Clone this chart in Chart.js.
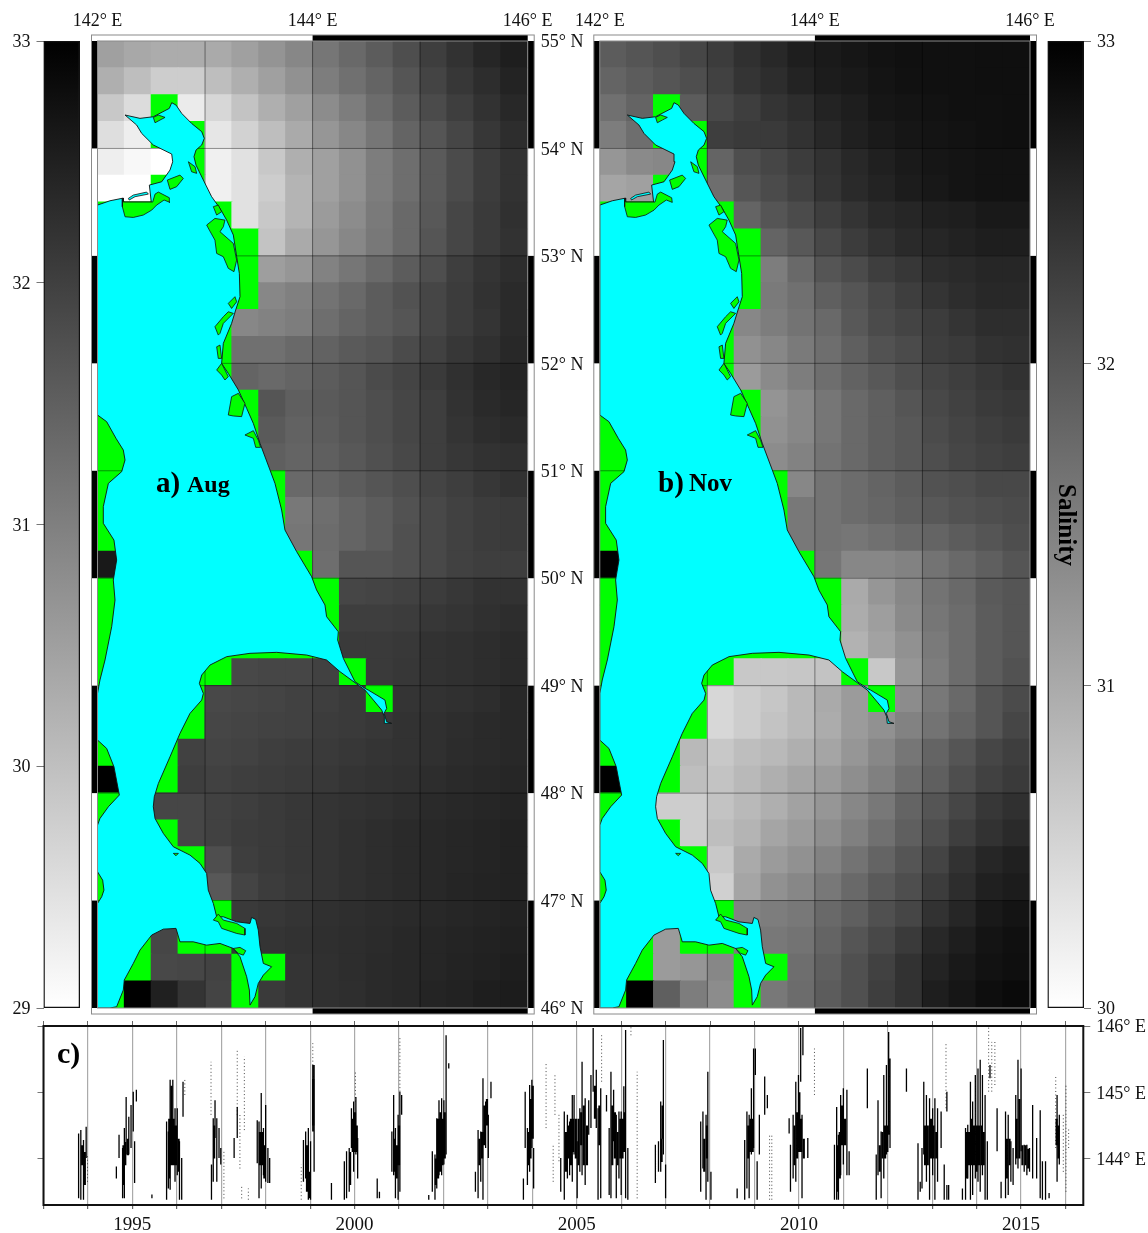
<!DOCTYPE html>
<html><head><meta charset="utf-8">
<script src="https://cdn.jsdelivr.net/npm/chart.js@4"></script>
<style>html,body{margin:0;padding:0;background:#fff}canvas{position:absolute;left:0;top:0}#w{position:relative;width:1148px;height:1233px;overflow:hidden}</style>
</head><body><div id="w"></div>
<script>
const _=null;
const lonTicks=[142,144,146];
const lonGrid=[143,144,145];
const latTicks=[46,47,48,49,50,51,52,53,54,55];
const augBarTicks=[29,30,31,32,33];
const novBarTicks=[30,31,32,33];
const yearTicks=[1993,1994,1995,1996,1997,1998,1999,2000,2001,2002,2003,2004,2005,2006,2007,2008,2009,2010,2011,2012,2013,2014,2015,2016];
const lonSeriesTicks=[144,145,146];

// salinity cells, row 0 = 54.75-55 N, column 0 = 142-142.25 E; null = land/no-data mask
const salinityAug=[
[30.49,30.36,30.30,30.30,30.33,30.49,30.68,30.88,31.15,31.35,31.56,31.78,32.03,32.22,32.40,32.53],
[30.25,30.02,29.78,29.78,30.02,30.25,30.49,30.73,31.04,31.24,31.43,31.67,31.93,32.14,32.29,32.45],
[29.86,29.55,_,29.31,29.63,29.94,30.25,30.49,30.80,31.04,31.31,31.56,31.82,32.03,32.22,32.37],
[29.52,29.27,_,_,29.39,29.71,30.02,30.33,30.65,30.88,31.15,31.43,31.67,31.90,32.14,32.29],
[29.27,29.11,29,_,29.24,29.47,29.86,30.25,30.49,30.73,31.04,31.27,31.59,31.82,32.06,32.22],
[29,29,_,_,29.24,29.47,29.78,30.18,30.49,30.73,31.04,31.27,31.59,31.82,32.06,32.22],
[_,_,_,_,_,29.47,29.86,30.18,30.57,30.80,31.09,31.35,31.62,31.90,32.09,32.25],
[_,_,_,_,_,_,29.94,30.33,30.65,30.88,31.12,31.35,31.67,31.90,32.09,32.22],
[_,_,_,_,_,_,30.52,30.65,30.96,31.15,31.35,31.56,31.78,32.03,32.18,32.29],
[_,_,_,_,_,_,30.88,30.99,31.20,31.35,31.56,31.71,31.90,32.06,32.22,32.34],
[_,_,_,_,_,30.88,30.96,31.04,31.27,31.43,31.56,31.67,31.90,32.06,32.18,32.34],
[_,_,_,_,_,31.24,31.24,31.35,31.46,31.59,31.67,31.82,31.98,32.14,32.25,32.37],
[_,_,_,_,_,31.43,31.35,31.43,31.56,31.67,31.82,31.93,32.09,32.25,32.37,32.44],
[_,_,_,_,_,_,31.67,31.51,31.59,31.67,31.78,31.90,32.03,32.22,32.34,32.40],
[_,_,_,_,_,_,31.59,31.46,31.56,31.67,31.78,31.90,32.03,32.18,32.29,32.34],
[_,_,_,_,_,_,31.51,31.43,31.51,31.62,31.75,31.87,32.03,32.14,32.22,32.25],
[_,_,_,_,_,_,_,31.35,31.43,31.56,31.67,31.78,31.93,32.03,32.14,32.22],
[_,_,_,_,_,_,_,31.12,31.27,31.43,31.56,31.71,31.87,31.98,32.06,32.09],
[_,_,_,_,_,_,_,31.15,31.31,31.43,31.56,31.75,31.87,31.98,32.06,32.09],
[32.61,_,_,_,_,_,_,_,31.27,31.67,31.67,31.75,31.87,31.98,32.03,32.03],
[_,_,_,_,_,_,_,_,_,31.90,31.93,31.98,32.06,32.14,32.22,32.22],
[_,_,_,_,_,_,_,_,_,32.03,32.03,32.06,32.14,32.18,32.25,32.29],
[_,_,_,_,_,_,_,_,_,32.09,32.09,32.12,32.22,32.25,32.29,32.34],
[_,_,_,_,_,31.87,31.90,31.90,31.98,_,32.09,32.14,32.22,32.25,32.29,32.34],
[_,_,_,_,31.87,31.90,31.93,31.98,32.03,32.09,_,32.18,32.22,32.25,32.29,32.37],
[_,_,_,_,31.90,31.93,31.96,31.98,32.06,32.09,32.14,32.22,32.25,32.29,32.34,32.37],
[_,_,_,31.98,31.93,31.96,32.03,32.06,32.09,32.14,32.18,32.22,32.25,32.31,32.34,32.37],
[33,_,_,32.03,31.98,32.03,32.06,32.09,32.12,32.18,32.22,32.25,32.29,32.34,32.37,32.40],
[_,_,31.90,31.90,31.98,32.03,32.09,32.14,32.18,32.22,32.25,32.29,32.34,32.37,32.40,32.44],
[_,_,_,31.90,31.98,32.06,32.09,32.14,32.18,32.25,32.29,32.34,32.37,32.40,32.44,32.47],
[_,_,_,_,31.78,32.03,32.09,32.14,32.18,32.25,32.29,32.34,32.37,32.40,32.44,32.47],
[_,_,_,_,31.62,31.93,32.06,32.12,32.18,32.25,32.29,32.34,32.37,32.42,32.45,32.47],
[_,_,_,_,_,32.09,32.14,32.18,32.25,32.28,32.31,32.34,32.37,32.40,32.44,32.47],
[_,_,31.90,_,_,32.14,32.18,32.22,32.26,32.29,32.33,32.37,32.40,32.44,32.47,32.50],
[_,_,31.87,31.90,31.96,_,_,32.18,32.25,32.29,32.34,32.37,32.40,32.45,32.48,32.53],
[_,33,32.50,32.18,31.93,_,32.09,32.18,32.25,32.28,32.34,32.37,32.44,32.47,32.53,32.56]
];
const salinityNov=[
[31.92,32.00,32.08,32.18,32.29,32.44,32.53,32.65,32.69,32.74,32.79,32.81,32.81,32.81,32.82,32.82],
[31.82,31.92,32.00,32.08,32.24,32.39,32.47,32.59,32.67,32.71,32.76,32.80,32.81,32.81,32.82,32.82],
[31.68,31.82,_,31.92,32.15,32.27,32.39,32.47,32.59,32.65,32.74,32.76,32.79,32.81,32.81,32.82],
[31.53,31.71,_,_,32.27,32.32,32.32,32.41,32.53,32.62,32.69,32.74,32.76,32.79,32.81,32.82],
[31.24,31.38,31.41,_,31.82,32.08,32.18,32.29,32.41,32.53,32.62,32.69,32.74,32.76,32.79,32.79],
[31.06,31.12,_,_,31.71,32.00,32.12,32.24,32.39,32.51,32.59,32.67,32.72,32.76,32.79,32.79],
[_,_,_,_,_,31.82,32.00,32.12,32.27,32.39,32.51,32.55,32.62,32.65,32.71,32.71],
[_,_,_,_,_,_,31.82,31.96,32.15,32.29,32.41,32.51,32.55,32.60,32.65,32.65],
[_,_,_,_,_,_,31.53,31.76,32.00,32.12,32.27,32.35,32.47,32.51,32.55,32.55],
[_,_,_,_,_,_,31.56,31.68,31.88,32.00,32.15,32.27,32.39,32.47,32.53,32.53],
[_,_,_,_,_,31.41,31.53,31.65,31.76,31.96,32.12,32.20,32.29,32.39,32.47,32.47],
[_,_,_,_,_,31.29,31.41,31.56,31.71,31.88,32.04,32.12,32.27,32.32,32.41,32.44],
[_,_,_,_,_,31.18,31.38,31.53,31.71,31.85,31.96,32.08,32.20,32.27,32.35,32.41],
[_,_,_,_,_,_,31.26,31.41,31.61,31.76,31.88,32.00,32.15,32.24,32.32,32.35],
[_,_,_,_,_,_,31.29,31.41,31.61,31.76,31.88,31.96,32.12,32.20,32.27,32.32],
[_,_,_,_,_,_,31.35,31.47,31.65,31.76,31.88,31.96,32.08,32.18,32.24,32.27],
[_,_,_,_,_,_,_,31.41,31.65,31.73,31.82,31.92,32.04,32.08,32.15,32.15],
[_,_,_,_,_,_,_,31.59,31.65,31.73,31.80,31.88,31.96,32.04,32.08,32.12],
[_,_,_,_,_,_,_,31.59,31.65,31.61,31.68,31.76,31.82,31.92,32.00,32.08],
[33,_,_,_,_,_,_,_,31.61,31.41,31.41,31.47,31.65,31.76,31.88,32.00],
[_,_,_,_,_,_,_,_,_,31.00,31.24,31.41,31.65,31.76,31.94,32.00],
[_,_,_,_,_,_,_,_,_,30.98,31.14,31.38,31.61,31.73,31.92,32.00],
[_,_,_,_,_,_,_,_,_,30.91,31.09,31.29,31.56,31.73,31.92,32.00],
[_,_,_,_,_,30.65,30.65,30.67,30.71,_,30.65,31.24,31.53,31.73,31.92,32.04],
[_,_,_,_,30.47,30.59,30.67,30.82,31.00,31.18,_,31.35,31.59,31.76,32.00,32.12],
[_,_,_,_,30.47,30.59,30.71,30.82,30.98,31.18,31.29,31.47,31.65,31.82,32.00,32.18],
[_,_,_,30.82,30.65,30.76,30.82,30.94,31.06,31.24,31.41,31.61,31.82,32.00,32.18,32.27],
[33,_,_,30.76,30.71,30.82,30.94,31.06,31.18,31.33,31.49,31.71,31.88,32.08,32.24,32.32],
[_,_,30.59,30.59,30.71,30.82,30.94,31.09,31.24,31.41,31.59,31.82,32.00,32.18,32.35,32.44],
[_,_,_,30.59,30.76,30.88,31.06,31.18,31.33,31.49,31.68,31.88,32.08,32.27,32.41,32.51],
[_,_,_,_,30.65,31.00,31.18,31.29,31.47,31.65,31.82,32.00,32.20,32.41,32.55,32.62],
[_,_,_,_,30.55,31.06,31.29,31.41,31.59,31.76,31.94,32.08,32.29,32.47,32.62,32.67],
[_,_,_,_,_,31.47,31.53,31.59,31.76,31.88,32.06,32.18,32.41,32.55,32.71,32.76],
[_,_,31.18,_,_,31.53,31.59,31.65,31.82,32.00,32.15,32.32,32.53,32.65,32.76,32.81],
[_,_,31.18,31.24,31.41,_,_,31.71,31.88,32.06,32.24,32.41,32.59,32.71,32.79,32.82],
[_,33,31.88,31.53,31.35,_,31.59,31.73,31.92,32.06,32.27,32.41,32.65,32.74,32.84,32.88]
];

// Sakhalin outline, [lon, lat]
const sakhalin=[[142,53.473],[142.116,53.513],[142.240,53.538],[142.240,53.501],[142.500,53.501],[142.482,53.659],[142.597,53.690],[142.674,53.799],[142.699,53.876],[142.690,53.948],[142.519,54.032],[142.411,54.140],[142.364,54.218],[142.256,54.311],[142.395,54.280],[142.519,54.295],[142.668,54.373],[142.690,54.426],[142.730,54.404],[142.783,54.326],[142.875,54.233],[142.969,54.156],[142.993,54.094],[142.969,54.032],[142.916,53.985],[142.897,53.923],[142.916,53.845],[142.984,53.706],[143.061,53.551],[143.139,53.442],[143.201,53.333],[143.263,53.194],[143.294,52.992],[143.319,52.837],[143.325,52.620],[143.285,52.496],[143.247,52.372],[143.170,52.186],[143.154,51.999],[143.216,51.907],[143.310,51.752],[143.387,51.581],[143.449,51.441],[143.511,51.255],[143.604,51.007],[143.650,50.883],[143.712,50.635],[143.743,50.449],[143.852,50.247],[143.991,50.014],[144.037,49.890],[144.115,49.751],[144.130,49.642],[144.239,49.502],[144.233,49.425],[144.286,49.254],[144.394,49.037],[144.487,48.975],[144.518,48.959],[144.673,48.866],[144.689,48.788],[144.664,48.742],[144.689,48.664],[144.735,48.649],[144.673,48.649],[144.667,48.711],[144.642,48.773],[144.565,48.866],[144.487,48.959],[144.394,49.028],[144.255,49.130],[144.130,49.239],[143.945,49.285],[143.666,49.310],[143.418,49.301],[143.201,49.270],[143.046,49.192],[142.969,49.099],[142.947,49.021],[142.984,48.928],[142.969,48.866],[142.860,48.742],[142.767,48.556],[142.674,48.338],[142.566,48.090],[142.528,47.966],[142.519,47.873],[142.535,47.764],[142.612,47.625],[142.705,47.501],[142.860,47.423],[142.953,47.346],[143.015,47.252],[143.030,47.097],[143.077,46.973],[143.108,46.849],[143.170,46.849],[143.294,46.802],[143.418,46.787],[143.433,46.843],[143.471,46.824],[143.495,46.725],[143.511,46.570],[143.542,46.415],[143.619,46.384],[143.542,46.306],[143.495,46.229],[143.464,46.105],[143.418,46.027],[143.412,46.167],[143.387,46.291],[143.325,46.477],[143.263,46.554],[143.139,46.601],[143.015,46.585],[142.891,46.616],[142.767,46.616],[142.730,46.741],[142.612,46.734],[142.504,46.679],[142.395,46.539],[142.333,46.415],[142.249,46.260],[142.240,46.167],[142.178,46.012],[142.116,46],[142,46],[142,46.973],[142.039,47.035],[142.060,47.097],[142.048,47.190],[142,47.268],[142,47.702],[142.023,47.764],[142.101,47.873],[142.203,47.982],[142.153,48.245],[142.085,48.416],[142,48.494],[142,48.928],[142.023,49.053],[142.070,49.239],[142.132,49.549],[142.163,49.797],[142.147,49.983],[142.178,50.169],[142.153,50.355],[142.054,50.511],[142.054,50.666],[142.101,50.883],[142.225,50.992],[142.256,51.100],[142.240,51.193],[142.172,51.302],[142.085,51.457],[142,51.519],[142,53.473]];
const sliver=[[142.287,53.535],[142.333,53.566],[142.457,53.594],[142.473,53.575],[142.349,53.551],[142.295,53.520],[142.287,53.535]];
const lagoons=[
[[142.519,54.289],[142.566,54.311],[142.628,54.289],[142.581,54.264],[142.535,54.239],[142.519,54.289]],
[[142.649,53.706],[142.767,53.752],[142.798,53.721],[142.736,53.644],[142.674,53.619],[142.649,53.706]],
[[142.231,53.535],[142.231,53.458],[142.256,53.364],[142.333,53.358],[142.426,53.380],[142.504,53.426],[142.550,53.473],[142.619,53.520],[142.674,53.498],[142.668,53.541],[142.566,53.594],[142.535,53.575],[142.513,53.501],[142.240,53.501],[142.231,53.535]],
[[143.015,53.287],[143.092,53.349],[143.185,53.333],[143.170,53.271],[143.139,53.225],[143.263,53.116],[143.294,52.961],[143.269,52.853],[143.216,52.884],[143.170,52.992],[143.108,53.023],[143.092,53.147],[143.040,53.240],[143.015,53.287]],
[[143.077,53.458],[143.123,53.473],[143.154,53.411],[143.108,53.380],[143.077,53.458]],
[[143.092,52.341],[143.170,52.434],[143.216,52.480],[143.263,52.465],[143.170,52.372],[143.139,52.279],[143.123,52.263],[143.092,52.341]],
[[143.216,52.558],[143.278,52.620],[143.294,52.573],[143.247,52.511],[143.216,52.558]],
[[143.108,52.154],[143.139,52.170],[143.154,52.046],[143.123,52.046],[143.108,52.154]],
[[143.108,51.938],[143.154,52.000],[143.216,51.876],[143.185,51.845],[143.154,51.891],[143.108,51.938]],
[[143.216,51.519],[143.247,51.690],[143.310,51.721],[143.371,51.628],[143.340,51.504],[143.263,51.510],[143.216,51.519]],
[[143.371,51.333],[143.449,51.373],[143.495,51.286],[143.517,51.218],[143.471,51.218],[143.449,51.302],[143.371,51.333]],
[[142.845,53.876],[142.907,53.830],[142.922,53.768],[142.875,53.783],[142.845,53.876]],
[[143.077,46.818],[143.123,46.874],[143.170,46.818],[143.294,46.787],[143.371,46.741],[143.371,46.679],[143.294,46.694],[143.154,46.741],[143.123,46.803],[143.077,46.818]],
[[143.263,46.554],[143.325,46.564],[143.378,46.533],[143.356,46.492],[143.310,46.508],[143.263,46.554]],
[[142.705,47.439],[142.752,47.439],[142.730,47.417],[142.705,47.439]]
];

// panel c: [decimal year, low longitude, high longitude]
const denseTracks=[[1993.79,143.40,144.38],[1993.84,143.38,144.43],[1993.90,143.38,144.28],[1993.96,144.01,144.48],[1994.64,143.70,143.88],[1994.70,144.01,144.36],[1994.78,143.40,144.16],[1994.82,143.40,144.46],[1994.86,144.06,144.93],[1994.92,144.06,144.63],[1994.97,144.16,144.81],[1995.02,144.41,145.01],[1995.05,143.63,144.26],[1995.09,144.86,145.04],[1995.44,143.40,143.46],[1995.77,143.38,144.56],[1995.81,143.55,144.41],[1995.85,143.53,145.19],[1995.91,144.16,145.19],[1995.96,143.65,144.76],[1996.01,143.75,144.76],[1996.06,143.38,144.26],[1996.11,143.38,144.01],[1996.14,144.63,145.16],[1996.78,143.38,143.91],[1996.82,143.65,144.61],[1996.86,144.31,144.88],[1996.90,143.65,144.61],[1996.95,144.01,144.46],[1996.99,143.91,144.16],[1997.29,144.01,144.31],[1997.36,144.31,144.78],[1997.81,143.93,144.58],[1997.85,143.40,144.56],[1997.90,143.55,144.99],[1997.95,143.75,144.46],[1998.00,143.65,144.81],[1998.05,143.63,144.16],[1998.09,143.63,144.01],[1998.85,143.65,144.28],[1998.90,143.70,144.41],[1998.96,143.38,144.46],[1999.01,143.38,144.26],[1999.06,144.41,145.41],[1999.09,143.80,145.41],[1999.48,143.38,143.63],[1999.77,143.38,143.96],[1999.82,143.40,144.11],[1999.88,143.50,144.16],[1999.93,144.16,144.76],[1999.98,143.80,144.86],[2000.03,144.06,144.93],[2000.07,143.70,144.31],[2000.51,143.40,143.70],[2000.56,143.40,143.50],[2000.84,143.80,144.41],[2000.88,143.75,144.96],[2000.92,143.40,144.46],[2000.98,143.38,144.66],[2001.02,143.50,145.01],[2001.06,144.66,144.96],[2001.67,143.38,143.45],[2001.75,143.50,144.11],[2001.81,143.38,144.06],[2001.85,143.55,144.61],[2001.90,143.75,144.88],[2001.96,143.75,144.91],[2002.01,143.91,144.88],[2002.06,144.06,145.86],[2002.12,145.36,145.44],[2002.72,143.50,143.80],[2002.78,143.40,144.43],[2002.84,143.65,144.41],[2002.89,143.38,145.21],[2002.95,144.16,144.86],[2003.01,144.01,144.66],[2003.07,144.91,145.16],[2003.80,143.38,143.70],[2003.84,144.16,145.01],[2003.89,143.60,144.46],[2003.94,143.80,145.11],[2003.99,144.16,145.19],[2004.03,143.55,144.16],[2004.64,143.50,144.01],[2004.72,143.38,144.71],[2004.79,143.70,144.66],[2004.84,143.75,144.56],[2004.90,143.65,144.96],[2004.94,144.06,144.96],[2005.01,143.40,144.26],[2005.07,143.80,144.76],[2005.12,143.75,145.46],[2005.19,143.60,144.91],[2005.27,144.36,144.88],[2005.32,144.46,145.26],[2005.37,145.01,145.97],[2005.44,144.46,145.34],[2005.48,143.38,144.76],[2005.54,143.40,145.06],[2005.67,144.71,144.96],[2005.73,143.45,144.46],[2005.77,143.40,145.31],[2005.83,144.26,145.04],[2005.89,143.40,144.66],[2005.95,143.70,144.71],[2006.00,143.45,144.71],[2006.06,144.16,145.09],[2006.10,143.40,145.94],[2006.15,143.38,144.16],[2006.77,143.63,144.21],[2006.84,143.80,144.26],[2006.89,143.80,144.86],[2006.95,144.06,145.79],[2007.00,143.40,143.91],[2007.79,143.50,144.56],[2007.84,143.85,144.71],[2007.91,143.38,144.66],[2007.95,143.65,145.31],[2008.02,143.38,143.80],[2008.61,143.40,143.55],[2008.78,143.38,144.28],[2008.83,143.55,144.71],[2008.88,143.40,144.66],[2008.93,144.06,145.06],[2008.98,144.16,145.66],[2009.02,145.26,145.66],[2009.06,143.38,143.96],[2009.11,144.06,144.66],[2009.23,144.66,145.24],[2009.29,144.76,144.96],[2009.78,144.38,144.61],[2009.81,143.50,144.21],[2009.87,143.70,144.66],[2009.93,143.65,145.16],[2009.99,144.16,145.26],[2010.04,145.16,145.97],[2010.09,145.56,145.99],[2010.07,143.40,144.66],[2010.20,144.01,144.31],[2010.80,143.38,144.21],[2010.85,143.38,144.78],[2010.89,143.38,144.36],[2010.94,143.75,144.96],[2011.00,143.91,145.06],[2011.08,143.75,145.04],[2011.13,143.75,144.11],[2011.54,144.76,145.36],[2011.74,143.38,144.06],[2011.78,143.75,144.88],[2011.85,143.40,144.41],[2011.91,143.70,145.26],[2011.97,144.06,145.41],[2012.02,144.36,145.91],[2012.05,144.16,145.51],[2012.42,145.01,145.36],[2012.68,143.38,144.23],[2012.73,143.50,143.65],[2012.77,143.55,144.16],[2012.81,144.06,145.16],[2012.87,143.65,144.96],[2012.94,143.38,144.91],[2013.01,143.75,144.76],[2013.06,143.38,144.91],[2013.12,143.65,144.76],[2013.20,144.16,144.71],[2013.27,143.38,143.91],[2013.33,143.38,143.60],[2013.37,143.38,143.60],[2013.33,144.71,145.01],[2013.68,143.38,143.55],[2013.75,143.38,144.46],[2013.80,143.70,144.51],[2013.86,143.38,145.16],[2013.91,143.45,144.86],[2013.97,143.70,145.26],[2014.03,143.65,145.36],[2014.08,143.50,145.49],[2014.13,143.75,145.26],[2014.19,143.38,144.96],[2014.24,143.38,144.26],[2014.30,145.21,145.41],[2014.46,144.11,144.76],[2014.55,143.40,143.65],[2014.65,143.40,144.71],[2014.71,143.45,144.66],[2014.77,143.65,144.26],[2014.82,143.60,144.16],[2014.88,143.91,144.96],[2014.93,143.85,145.49],[2015.00,144.11,145.36],[2015.07,143.80,144.21],[2015.13,143.75,144.21],[2015.19,143.80,144.16],[2015.26,143.70,144.81],[2015.35,143.70,144.31],[2015.43,143.40,144.73],[2015.48,143.38,143.96],[2015.55,143.38,143.96],[2015.63,143.40,143.48],[2015.81,143.65,144.96],[2015.86,143.91,144.66]];
const coreTracks=[[1993.87,143.9,144.2],[1993.93,143.6,144.1],[1994.80,143.6,144.2],[1994.84,143.9,144.25],[1994.90,144.05,144.3],[1995.83,143.7,144.6],[1995.88,143.9,145.1],[1995.93,143.9,144.6],[1995.98,143.9,144.5],[1996.04,143.8,144.3],[1996.84,144.0,144.5],[1997.87,143.9,144.4],[1997.92,143.9,144.4],[1997.97,143.7,144.2],[1998.93,143.5,144.2],[1998.99,143.4,143.8],[1999.07,144.5,145.2],[1999.90,143.6,144.1],[1999.96,144.1,144.6],[2000.01,144.1,144.7],[2000.05,144.1,144.5],[2000.90,143.8,144.3],[2000.95,143.7,144.2],[2001.00,143.9,144.5],[2001.83,143.6,144.0],[2001.88,143.7,144.6],[2001.93,143.8,144.7],[2001.98,143.9,144.6],[2002.03,144.0,144.7],[2002.81,143.9,144.3],[2002.87,144.0,144.4],[2002.92,144.2,144.8],[2002.98,144.5,144.9],[2003.91,143.9,144.4],[2003.96,144.0,144.9],[2004.01,144.3,145.1],[2004.76,143.8,144.4],[2004.81,144.0,144.5],[2004.87,143.9,144.6],[2004.92,144.1,144.6],[2004.98,144.0,144.6],[2005.04,143.9,144.6],[2005.10,144.2,144.7],[2005.16,143.9,144.8],[2005.23,143.9,144.5],[2005.41,144.6,145.1],[2005.51,144.2,144.8],[2005.80,143.9,144.8],[2005.86,144.0,144.7],[2005.92,143.9,144.4],[2005.98,144.0,144.6],[2006.03,144.0,144.6],[2006.08,144.1,144.7],[2006.91,143.95,144.3],[2006.93,144.3,144.8],[2007.87,143.8,144.3],[2007.93,144.0,144.5],[2008.86,144.0,144.5],[2008.91,144.1,144.6],[2008.96,144.1,144.6],[2009.90,143.9,144.5],[2009.96,144.0,144.7],[2010.01,144.1,145.0],[2010.05,144.1,144.6],[2010.11,144.0,144.3],[2010.87,143.5,144.2],[2010.92,143.7,144.4],[2010.97,144.2,144.8],[2011.04,144.2,144.6],[2011.82,143.8,144.2],[2011.88,144.0,144.4],[2011.94,144.0,144.5],[2011.99,144.1,144.5],[2012.84,143.9,144.5],[2012.90,143.9,144.5],[2012.97,144.0,144.6],[2013.03,144.0,144.5],[2013.09,144.0,144.4],[2013.78,143.7,144.4],[2013.83,143.9,144.4],[2013.89,143.9,144.6],[2013.94,143.9,144.5],[2014.00,143.8,144.5],[2014.05,143.9,144.5],[2014.11,143.9,144.5],[2014.16,143.9,144.4],[2014.68,143.7,144.3],[2014.74,143.9,144.3],[2014.90,144.0,144.6],[2014.96,144.0,144.9],[2015.03,143.9,144.2],[2015.10,143.9,144.2],[2015.16,143.85,144.15],[2015.80,144.2,144.6],[2015.84,144.0,144.5]];
const sparseTracks=[[1993.99,143.65,144.06],[1996.18,144.96,145.19],[1996.77,144.66,145.46],[1997.06,143.40,144.11],[1997.36,144.66,145.64],[1997.52,144.43,145.54],[1997.42,143.85,144.66],[1997.46,143.40,143.58],[1997.61,143.38,143.55],[1998.80,143.38,143.91],[1999.06,145.41,145.74],[2000.02,144.86,145.31],[2001.02,145.01,145.84],[2004.31,144.46,145.46],[2004.51,144.66,145.26],[2004.60,143.96,144.66],[2004.47,143.65,144.21],[2005.56,145.16,145.86],[2006.22,145.86,145.99],[2006.36,143.40,145.31],[2009.34,143.38,144.36],[2009.39,143.38,144.36],[2010.35,144.96,145.66],[2013.31,144.76,145.76],[2014.27,145.01,145.99],[2014.34,145.01,145.76],[2014.41,145.11,145.76],[2015.95,143.80,144.66],[2016.01,143.50,145.11],[2016.07,144.16,144.46],[2015.78,144.16,145.26]];

const W=1148,H=1233,SERIF="'Liberation Serif','Times New Roman',serif";
Chart.defaults.font.family=SERIF;Chart.defaults.font.size=18;Chart.defaults.color='#111';
Chart.defaults.animation=false;Chart.defaults.responsive=false;
Chart.defaults.plugins.legend.display=false;Chart.defaults.plugins.tooltip.enabled=false;

function canvas(){const c=document.createElement('canvas');c.width=W;c.height=H;c.style.width=W+'px';c.style.height=H+'px';document.getElementById('w').appendChild(c);return c.getContext('2d');}
const fixH=h=>s=>{s.height=h},fixW=w=>s=>{s.width=w};
const setTicks=a=>s=>{s.ticks=a.map(v=>({value:v}))};
const xy=a=>a.map(p=>({x:p[0],y:p[1]}));

function mapFrame(){return{id:'mapFrame',afterDraw(ch){
  const c=ch.ctx,a=ch.chartArea,x=ch.scales.x,y=ch.scales.y,t=6;
  c.save();c.fillStyle='#000';
  for(let i=0;i<latTicks.length-1;i+=2){
    const top=y.getPixelForValue(latTicks[latTicks.length-1-i]),bot=y.getPixelForValue(latTicks[latTicks.length-2-i]);
    c.fillRect(a.left-t,top,t,bot-top);c.fillRect(a.right,top,t+.5,bot-top);
  }
  const mid=x.getPixelForValue(144);
  c.fillRect(mid,a.top-t,a.right-mid,t);c.fillRect(mid,a.bottom,a.right-mid,t);
  c.strokeStyle='#8a8a8a';c.lineWidth=1;
  c.strokeRect(a.left-t,a.top-t,a.width+2*t+.5,a.height+2*t);
  c.strokeRect(a.left,a.top,a.width,a.height);
  c.restore();
}};}
function labelPlugin(items){return{id:'labels',afterDraw(ch){const c=ch.ctx;c.save();c.fillStyle='#000';c.textBaseline='alphabetic';
  items.forEach(i=>{c.save();c.font=i.font;c.translate(i.x,i.y);if(i.rot)c.rotate(i.rot);if(i.center)c.textAlign='center';c.fillText(i.text,0,0);c.restore();});c.restore();}};}

function mapChart(grid,lo,area,showLat,items){
  const cells=[];
  grid.forEach((row,r)=>row.forEach((v,k)=>cells.push({x:142.125+k*.25,y:54.875-r*.25,v})));
  const shade=v=>{if(v===null)return '#00ff00';const g=Math.round((33-v)/(33-lo)*255);return `rgb(${g},${g},${g})`;};
  const lines=[];
  lonGrid.forEach(l=>{lines.push({x:l,y:46},{x:l,y:55},{x:l,y:null});});
  latTicks.slice(1,-1).forEach(l=>{lines.push({x:142,y:l},{x:146,y:l},{x:146,y:null});});
  const rad=c=>(c.chart.scales.x.width/32+.55)/Math.SQRT1_2;
  const ds=[{label:'Salinity',data:cells,order:9,showLine:false,
    pointStyle:'rect',pointRadius:rad,pointHoverRadius:rad,
    pointBackgroundColor:c=>shade(c.raw.v),pointBorderWidth:0},
   {label:'Graticule',data:lines,order:8,showLine:true,pointRadius:0,borderColor:'rgba(0,0,0,.42)',borderWidth:1},
   {label:'Sakhalin',data:xy(sakhalin),order:7,showLine:true,pointRadius:0,fill:'shape',backgroundColor:'#00ffff',borderColor:'#111',borderWidth:.9,tension:0},
   {label:'Inlet',data:xy(sliver),order:6,showLine:true,pointRadius:0,fill:'shape',backgroundColor:'#00ffff',borderColor:'#111',borderWidth:.8}];
  lagoons.forEach((p,i)=>ds.push({label:'Lagoon '+i,data:xy(p),order:5,showLine:true,pointRadius:0,fill:'shape',backgroundColor:'#00ff00',borderColor:'#111',borderWidth:.8}));
  const latBox=64;
  new Chart(canvas(),{type:'scatter',data:{datasets:ds},plugins:[mapFrame(),labelPlugin(items)],options:{
    layout:{padding:{left:area[0],top:0,right:W-area[1]-latBox,bottom:H-1008}},
    scales:{
     x:{type:'linear',position:'top',min:142,max:146,afterBuildTicks:setTicks(lonTicks),afterFit:fixH(41),grid:{display:false,drawTicks:false},border:{display:false},
        ticks:{autoSkip:false,maxRotation:0,padding:9,color:'#111',font:{size:18},callback:v=>v+'° E'}},
     y:{type:'linear',position:'right',min:46,max:55,afterBuildTicks:setTicks(latTicks),afterFit:fixW(latBox),grid:{display:false,drawTicks:false},border:{display:false},
        ticks:{display:showLat,autoSkip:false,padding:13,labelOffset:1.5,color:'#111',font:{size:18},callback:v=>v+'° N'}}
    }}});
}

function barChart(lo,ticks,left,right,side,items){
  const box=side==='left'?left:W-right;
  new Chart(canvas(),{type:'bar',data:{labels:['Salinity'],datasets:[{label:'Salinity scale',data:[[lo,33]],barPercentage:1,categoryPercentage:1,borderColor:'#111',borderWidth:1.6,borderSkipped:false,
    backgroundColor:c=>{const a=c.chart.chartArea;if(!a)return '#888';const g=c.chart.ctx.createLinearGradient(0,a.top,0,a.bottom);g.addColorStop(0,'#000');g.addColorStop(1,'#fff');return g;}}]},
    plugins:[labelPlugin(items)],
    options:{layout:{padding:{left:side==='left'?0:left,right:side==='left'?W-right:0,top:41,bottom:H-1008}},scales:{
      x:{display:false},
      y:{position:side,min:lo,max:33,afterBuildTicks:setTicks(ticks),afterFit:fixW(box),border:{display:false},
         grid:{drawOnChartArea:false,drawTicks:true,tickLength:7,color:'#777'},
         ticks:{autoSkip:false,padding:6,labelOffset:1.5,color:'#111',font:{size:18},callback:v=>String(v)}}
    }}});
}

barChart(29,augBarTicks,43.5,80,'left',[]);
barChart(30,novBarTicks,1047.5,1084,'right',[{text:'Salinity',font:'bold 25px '+SERIF,x:1059,y:525,rot:Math.PI/2,center:true}]);
mapChart(salinityAug,29,[97.5,527.7],true,[{text:'a)',font:'bold 29px '+SERIF,x:156,y:492},{text:'Aug',font:'bold 24px '+SERIF,x:187,y:492}]);
mapChart(salinityNov,30,[599.8,1030],false,[{text:'b)',font:'bold 29px '+SERIF,x:658,y:492},{text:'Nov',font:'bold 25px '+SERIF,x:689,y:491}]);

function tracks(a){const o=[];a.forEach(t=>{o.push({x:t[0],y:t[1]},{x:t[0],y:t[2]},{x:t[0],y:null});});return o;}
new Chart(canvas(),{type:'scatter',data:{datasets:[
  {label:'Dense tracks',data:tracks(denseTracks),showLine:true,pointRadius:0,borderColor:'#000',borderWidth:1.3,order:2},
  {label:'Core tracks',data:tracks(coreTracks),showLine:true,pointRadius:0,borderColor:'#000',borderWidth:2.2,order:1},
  {label:'Sparse tracks',data:tracks(sparseTracks),showLine:true,pointRadius:0,borderColor:'#333',borderWidth:.9,borderDash:[1,2.5],order:3}
 ]},
 plugins:[{id:'box',afterDraw(ch){const c=ch.ctx,a=ch.chartArea;c.save();c.strokeStyle='#111';c.lineWidth=2;c.strokeRect(a.left,a.top,a.width,a.height);c.restore();}},
   labelPlugin([{text:'c)',font:'bold 30px '+SERIF,x:57,y:1063}])],
 options:{layout:{padding:{left:0,right:0,top:1026-10,bottom:0}},scales:{
   x:{type:'linear',position:'bottom',min:1993,max:2016.4,afterBuildTicks:setTicks(yearTicks),afterFit:fixH(H-1205),border:{display:false},
      grid:{color:'#aaa',lineWidth:1.2,tickColor:'#666',tickLength:4},
      ticks:{autoSkip:false,maxRotation:0,padding:5,color:'#111',font:{size:19},callback:v=>v%5===0?String(v):''}},
   xTop:{type:'linear',position:'top',min:1993,max:2016.4,afterBuildTicks:setTicks(yearTicks),afterFit:fixH(10),border:{display:false},
      grid:{drawOnChartArea:false,tickColor:'#666',tickLength:5},ticks:{display:false}},
   y:{type:'linear',position:'left',min:143.3,max:146,afterBuildTicks:setTicks(lonSeriesTicks),afterFit:fixW(43.5),border:{display:false},
      grid:{drawOnChartArea:false,tickColor:'#777',tickLength:6},ticks:{display:false}},
   yRight:{type:'linear',position:'right',min:143.3,max:146,afterBuildTicks:setTicks(lonSeriesTicks),afterFit:fixW(W-1083.3),border:{display:false},
      grid:{drawOnChartArea:false,tickColor:'#777',tickLength:7},
      ticks:{autoSkip:false,padding:6,labelOffset:1.5,color:'#111',font:{size:18},callback:v=>v+'° E'}}
 }}});
</script></body></html>
